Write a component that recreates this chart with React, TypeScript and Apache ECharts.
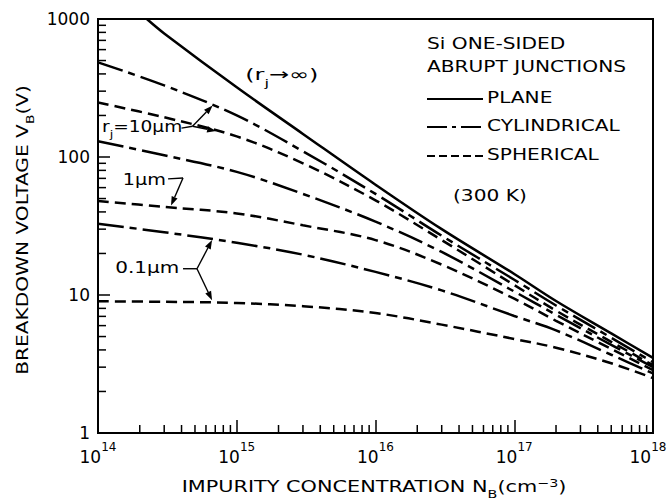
import React, { useEffect, useRef } from 'react';
import * as echarts from 'echarts';

// ---------- data (impurity concentration N_B in cm^-3, breakdown voltage in V) ----------
const N_GRID = [1e14, 3e14, 1e15, 3e15, 1e16, 3e16, 1e17, 2e17, 5e17, 1e18];
const N_PLANE = [2.25e14, 3e14, 1e15, 3e15, 1e16, 3e16, 1e17, 2e17, 5e17, 1e18];

const V_PLANE = [1000, 786, 320, 147, 63, 30, 14.2, 9.05, 5.27, 3.5];
const V_CYL_10UM = [485, 330, 200, 110, 54, 26.9, 12.9, 8.4, 4.9, 3.26];
const V_SPH_10UM = [248, 194, 141, 90, 48.5, 25, 11.8, 7.7, 4.58, 3.1];
const V_CYL_1UM = [130, 103, 78, 54, 34, 20.5, 10.6, 7.2, 4.35, 3.0];
const V_SPH_1UM = [48, 43.5, 39, 32, 25, 16.6, 9.4, 6.5, 4.07, 2.85];
const V_CYL_01UM = [32.8, 28.5, 23.9, 19.6, 14.7, 10.8, 7.05, 5.54, 3.69, 2.7];
const V_SPH_01UM = [9.0, 8.93, 8.75, 8.3, 7.4, 6.1, 4.8, 4.15, 3.2, 2.5];

// axis ranges and minor-tick decades
const X_MIN = 1e14;
const X_MAX = 1e18;
const Y_MIN = 1;
const Y_MAX = 1000;
const MINOR_MULT = [2, 3, 4, 5, 6, 7, 8, 9];
const X_DECADES = [1e14, 1e15, 1e16, 1e17];
const Y_DECADES = [1, 10, 100];

// annotation anchors, in data coordinates [N_B, V_B]
const INF_LABEL = [1.15e15, 384];
const R10_LABEL = [1.07e14, 162];
const R10_STEM = [[4.0e14, 162], [4.8e14, 167]];
const R10_TIPS = [[6.7e14, 236], [7.1e14, 154]];
const R1_LABEL = [1.51e14, 66];
const R1_STEM = [[3.2e14, 69.4], [4.1e14, 70.5]];
const R1_TIP = [3.36e14, 44.5];
const R01_LABEL = [1.33e14, 15.3];
const R01_STEM = [[4.1e14, 15.5], [5.17e14, 15.5]];
const R01_TIPS = [[6.64e14, 25], [6.64e14, 9.15]];

// layout
const GRID = { left: 98, top: 19, width: 555, height: 414 };
const FONT = '"DejaVu Sans", sans-serif';
const CYL_DASH = [26, 6, 7, 6];
const SPH_DASH = [11, 6];

const zip = (xs: number[], ys: number[]) => xs.map((x, i) => [x, ys[i]]);

function curve(name: string, xs: number[], ys: number[], dash: any) {
  return {
    type: 'line',
    name,
    data: zip(xs, ys),
    showSymbol: false,
    symbol: 'none',
    smooth: 0.35,
    silent: true,
    z: 3,
    lineStyle: { color: '#000', width: 2.5, type: dash, cap: 'butt' },
  };
}

const X_MINOR = X_DECADES.flatMap((d) => MINOR_MULT.map((m) => m * d));
const Y_MINOR = Y_DECADES.flatMap((d) => MINOR_MULT.map((m) => m * d));

const RICH = {
  n: { fontSize: 16, lineHeight: 20, verticalAlign: 'top', fontFamily: FONT, color: '#000' },
  sub: { fontSize: 11, lineHeight: 11, padding: [11, 0, 0, 0], verticalAlign: 'top', fontFamily: FONT, color: '#000' },
  sup: { fontSize: 11, lineHeight: 11, verticalAlign: 'top', fontFamily: FONT, color: '#000' },
};
const TICK_RICH = {
  b: { fontSize: 17, lineHeight: 24, verticalAlign: 'bottom', fontFamily: FONT, color: '#000' },
  s: { fontSize: 12, lineHeight: 10, verticalAlign: 'top', fontFamily: FONT, color: '#000' },
};
const decadeLabel = (v: number) => `{b|10}{s|${Math.round(Math.log10(v))}}`;

const option: any = {
  animation: false,
  grid: { ...GRID, outerBoundsMode: 'none', containLabel: false, show: true, borderColor: '#000', borderWidth: 2 },
  xAxis: {
    type: 'log', logBase: 10, min: X_MIN, max: X_MAX, position: 'bottom',
    axisLine: { show: true, lineStyle: { color: '#000', width: 2 } },
    axisTick: { show: true, inside: true, length: 13, lineStyle: { color: '#000', width: 1.5 } },
    splitLine: { show: false },
    axisLabel: { margin: 8, showMaxLabel: false, formatter: decadeLabel, rich: TICK_RICH },
  },
  yAxis: {
    type: 'log', logBase: 10, min: Y_MIN, max: Y_MAX, position: 'left',
    axisLine: { show: true, lineStyle: { color: '#000', width: 2 } },
    axisTick: { show: true, inside: true, length: 12, lineStyle: { color: '#000', width: 1.5 } },
    splitLine: { show: false },
    axisLabel: {
      margin: 8, fontSize: 17, fontFamily: FONT, color: '#000',
      formatter: (v: number) => String(Math.round(v)),
    },
  },
  series: [
    {
      // plot frame: top and right edges of the box, drawn along the axis extents
      type: 'line', name: 'frame', silent: true, clip: false, z: 6,
      showSymbol: false, symbol: 'none',
      data: [[X_MIN, Y_MAX], [X_MAX, Y_MAX], [X_MAX, Y_MIN]],
      lineStyle: { color: '#000', width: 2, type: 'solid' },
    },
    curve('Plane', N_PLANE, V_PLANE, 'solid'),
    curve('Cylindrical 10 µm', N_GRID, V_CYL_10UM, CYL_DASH),
    curve('Spherical 10 µm', N_GRID, V_SPH_10UM, SPH_DASH),
    curve('Cylindrical 1 µm', N_GRID, V_CYL_1UM, CYL_DASH),
    curve('Spherical 1 µm', N_GRID, V_SPH_1UM, SPH_DASH),
    curve('Cylindrical 0.1 µm', N_GRID, V_CYL_01UM, CYL_DASH),
    curve('Spherical 0.1 µm', N_GRID, V_SPH_01UM, SPH_DASH),
    {
      type: 'custom', silent: true, clip: false, z: 5,
      data: X_MINOR.map((x) => [x, Y_MIN]),
      renderItem: (_p: any, api: any) => {
        const p = api.coord([api.value(0), api.value(1)]);
        return { type: 'line', shape: { x1: p[0], y1: p[1], x2: p[0], y2: p[1] - 8 }, style: { stroke: '#000', lineWidth: 1.5 } };
      },
    },
    {
      type: 'custom', silent: true, clip: false, z: 5,
      data: Y_MINOR.map((y) => [X_MIN, y]),
      renderItem: (_p: any, api: any) => {
        const p = api.coord([api.value(0), api.value(1)]);
        return { type: 'line', shape: { x1: p[0], y1: p[1], x2: p[0] + 8, y2: p[1] }, style: { stroke: '#000', lineWidth: 1.5 } };
      },
    },
  ],
};

function arrowEls(a: number[], b: number[]) {
  const dx = b[0] - a[0];
  const dy = b[1] - a[1];
  const L = Math.hypot(dx, dy) || 1;
  const ux = dx / L;
  const uy = dy / L;
  const hl = 9;
  const hw = 3.2;
  const base = [b[0] - ux * hl, b[1] - uy * hl];
  return [
    { type: 'line', shape: { x1: a[0], y1: a[1], x2: base[0], y2: base[1] }, style: { stroke: '#000', lineWidth: 1.4 } },
    {
      type: 'polygon',
      shape: { points: [b, [base[0] - uy * hw, base[1] + ux * hw], [base[0] + uy * hw, base[1] - ux * hw]] },
      style: { fill: '#000' },
    },
  ];
}

function seg(a: number[], b: number[], w = 1.4) {
  return { type: 'line', z: 8, shape: { x1: a[0], y1: a[1], x2: b[0], y2: b[1] }, style: { stroke: '#000', lineWidth: w } };
}

function txt(text: string, x: number, y: number, opts: any = {}) {
  return {
    type: 'text', x, y, scaleX: opts.scaleX ?? 1.26, rotation: opts.rotation ?? 0, z: 10,
    style: {
      text, rich: RICH, fontSize: 16, fontFamily: FONT, fill: '#000',
      align: opts.align ?? 'left', verticalAlign: 'middle',
    },
  };
}

function legendLine(y: number, dash: any) {
  return {
    type: 'line', shape: { x1: 427, y1: y, x2: 483, y2: y },
    style: { stroke: '#000', lineWidth: 2.2, lineDash: dash },
  };
}

function buildGraphic(chart: any) {
  const P = (d: number[]) => chart.convertToPixel({ gridIndex: 0 }, d) as number[];
  const els: any[] = [];

  // last decade label of the x axis, kept inside the page
  const xm = P([X_MAX, Y_MIN]);
  els.push({
    type: 'text', x: xm[0] - 5, y: xm[1] + 8, z: 10,
    style: { text: decadeLabel(X_MAX), rich: TICK_RICH, align: 'center', verticalAlign: 'top', fill: '#000' },
  });

  // annotations on curves
  const inf = P(INF_LABEL);
  els.push(txt('{n|(r}{sub|j}{n|→∞)}', inf[0], inf[1], { scaleX: 1.5 }));
  const r10 = P(R10_LABEL);
  els.push(txt('{n|r}{sub|j}{n|=10µm}', r10[0], r10[1], { scaleX: 1.16 }));
  els.push(seg(P(R10_STEM[0]), P(R10_STEM[1])));
  R10_TIPS.forEach((t) => els.push(...arrowEls(P(R10_STEM[1]), P(t))));
  const r1 = P(R1_LABEL);
  els.push(txt('{n|1µm}', r1[0], r1[1], { scaleX: 1.2 }));
  els.push(seg(P(R1_STEM[0]), P(R1_STEM[1])));
  els.push(...arrowEls(P(R1_STEM[1]), P(R1_TIP)));
  const r01 = P(R01_LABEL);
  els.push(txt('{n|0.1µm}', r01[0], r01[1], { scaleX: 1.25 }));
  els.push(seg(P(R01_STEM[0]), P(R01_STEM[1])));
  R01_TIPS.forEach((t) => els.push(...arrowEls(P(R01_STEM[1]), P(t))));

  // legend block
  els.push(txt('{n|Si ONE-SIDED}', 427, 45));
  els.push(txt('{n|ABRUPT JUNCTIONS}', 427, 68));
  els.push(legendLine(99, null));
  els.push(txt('{n|PLANE}', 487, 99));
  els.push(legendLine(127, [20, 5, 4, 5]));
  els.push(txt('{n|CYLINDRICAL}', 487, 127));
  els.push(legendLine(156, [8, 4]));
  els.push(txt('{n|SPHERICAL}', 487, 156));
  els.push(txt('{n|(300 K)}', 453, 197));

  // axis titles
  els.push(txt('{n|IMPURITY CONCENTRATION N}{sub|B}{n|(cm}{sup|−3}{n|)}', 374, 488, { align: 'center', scaleX: 1.3 }));
  els.push(txt('{n|BREAKDOWN VOLTAGE V}{sub|B}{n|(V)}', 24, 230, { align: 'center', scaleX: 1.26, rotation: Math.PI / 2 }));

  // plot box outline (also drawn by the frame series and the grid border)
  els.push({
    type: 'rect', silent: true, z: 9,
    shape: { x: GRID.left, y: GRID.top, width: GRID.width, height: GRID.height },
    style: { stroke: '#000', lineWidth: 2, fill: 'rgba(0,0,0,0)' },
  });

  return els;
}

export default function App() {
  const ref = useRef<HTMLDivElement>(null);
  useEffect(() => {
    document.body.style.margin = '0';
    const chart = echarts.init(ref.current!, null, { renderer: 'svg' });
    chart.setOption(option);
    chart.setOption({ graphic: buildGraphic(chart) });
    return () => chart.dispose();
  }, []);
  return <div ref={ref} style={{ width: 669, height: 501 }} />;
}
